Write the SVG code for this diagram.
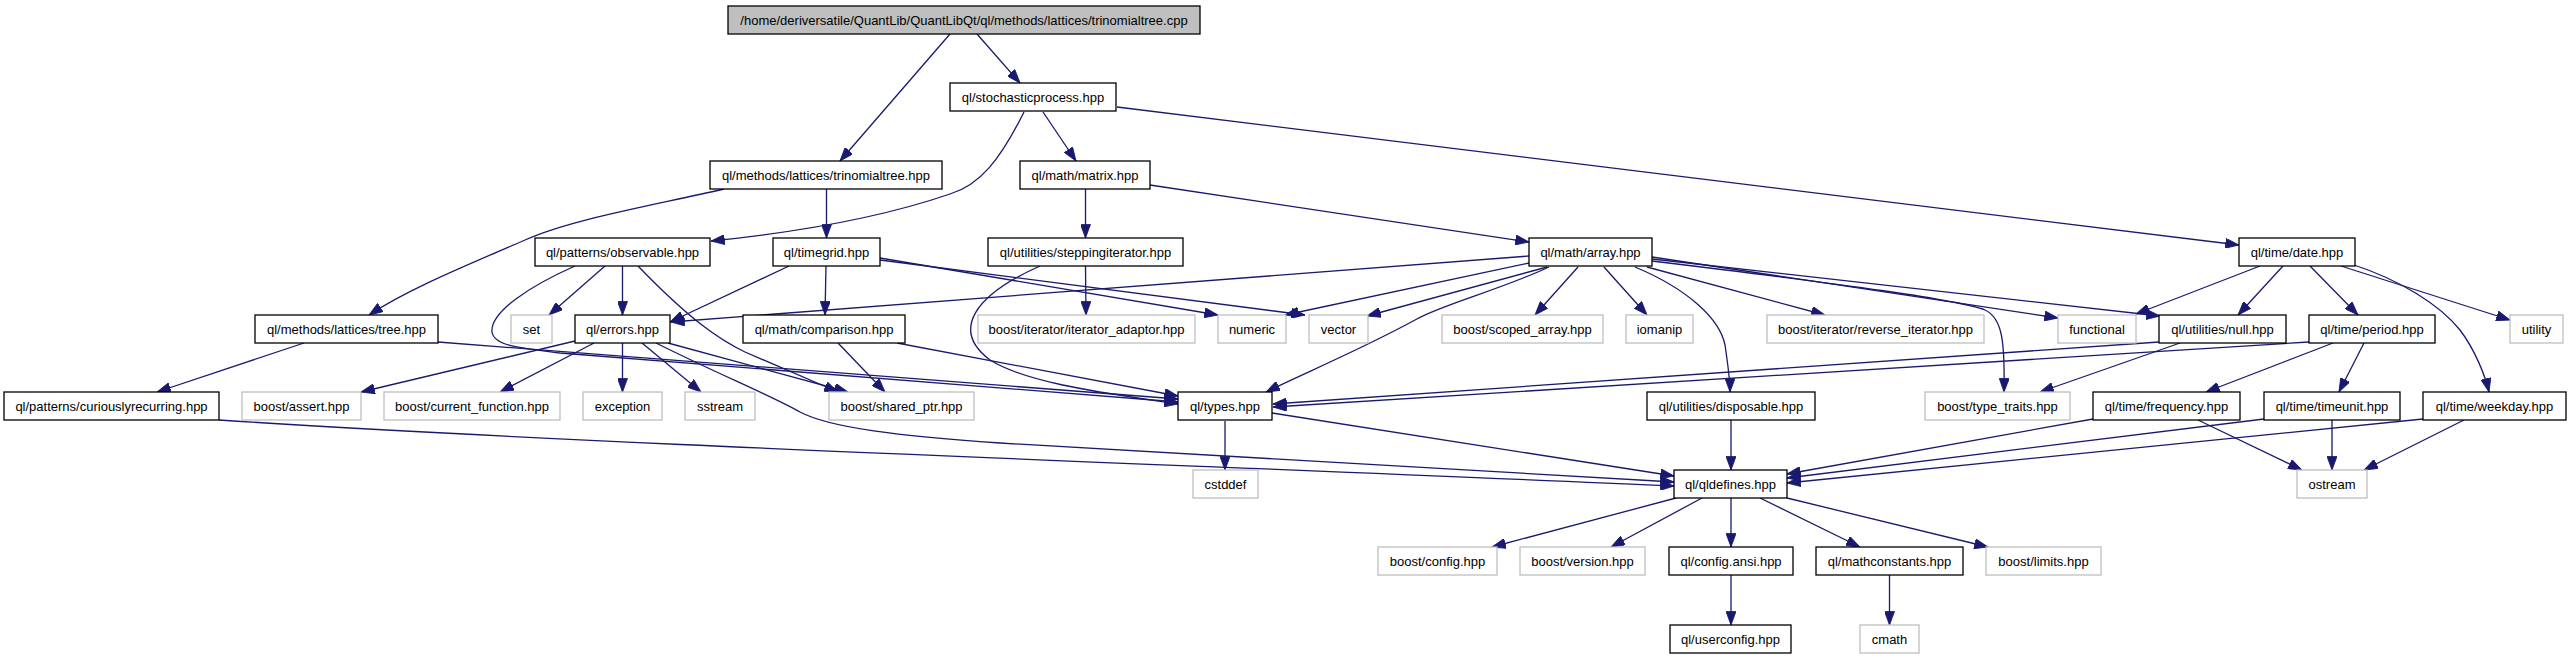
<svg xmlns="http://www.w3.org/2000/svg" width="2571" height="659" viewBox="0 0 2571 659">
<style>
.node rect{fill:#ffffff;stroke:#000000;stroke-width:1.3}
.node.g rect{stroke:#bfbfbf}
.node.root rect{fill:#bfbfbf}
.node text{font-family:"Liberation Sans",Arial,sans-serif;font-size:13px;text-anchor:middle;fill:#000000}
.edges path{fill:none;stroke:#191970;stroke-width:1.3;marker-end:url(#arr)}
</style>
<defs>
<marker id="arr" markerUnits="userSpaceOnUse" markerWidth="14" markerHeight="10" viewBox="0 0 13 9.6" refX="13" refY="4.8" orient="auto">
<path d="M0,0 L13,4.8 L0,9.6 z" fill="#191970" stroke="#191970" stroke-width="0.8"/>
</marker>
</defs>
<rect width="2571" height="659" fill="#ffffff"/>
<g class="edges" id="edges">
<path d="M950,34 L840,161"/>
<path d="M977,34 L1020,83"/>
<path d="M1024,112 C1000,160 980,185 950,194 C880,218 790,233 711,241"/>
<path d="M1043,112 L1076,161"/>
<path d="M1117,107 L2239,245"/>
<path d="M724,189 C640,208 570,220 525,240 C470,264 410,288 369,315"/>
<path d="M826.5,189 L826.5,238"/>
<path d="M1085.5,189 L1085.5,238"/>
<path d="M1150,185 L1529,242"/>
<path d="M605,266 L549,315"/>
<path d="M622.5,266 L622.5,315"/>
<path d="M575,266 C530,286 490,312 492,332 C494,346 520,348 560,353 L1178,402"/>
<path d="M638,266 C690,320 720,340 745,352 L838,392"/>
<path d="M789,266 L670,322"/>
<path d="M826,266 L825,315"/>
<path d="M880,258 L1218,315"/>
<path d="M880,260 L1305,315"/>
<path d="M1085.5,266 L1086,315"/>
<path d="M1040,266 C975,295 950,330 990,360 C1030,385 1120,395 1178,404"/>
<path d="M1529,256 L671,322"/>
<path d="M1529,263 L1285,315"/>
<path d="M1547,267 L1367,316"/>
<path d="M1549,267 C1500,290 1440,305 1415,320 C1360,350 1300,375 1266,392"/>
<path d="M1578,267 L1535,315"/>
<path d="M1604,267 L1647,315"/>
<path d="M1635,267 C1690,290 1720,320 1725,345 C1728,365 1730,380 1730,392"/>
<path d="M1647,267 L1825,315"/>
<path d="M1652,257 L2058,318"/>
<path d="M1652,259 L2160,316"/>
<path d="M1652,261 C1850,285 1960,300 1985,310 C2002,318 2005,340 2004,392"/>
<path d="M2260,266 L2136,314"/>
<path d="M2283,266 L2238,315"/>
<path d="M2310,266 L2358,315"/>
<path d="M2341,266 L2510,320"/>
<path d="M2354,265 C2400,280 2440,305 2460,330 C2475,350 2485,375 2489,392"/>
<path d="M2159,342 L1273,404"/>
<path d="M2180,343 L2040,392"/>
<path d="M2309,342 L1273,407"/>
<path d="M2333,343 L2206,392"/>
<path d="M2364,343 L2339,392"/>
<path d="M304,343 L157,392"/>
<path d="M438,342 L1178,399"/>
<path d="M575,341 L361,392"/>
<path d="M594,343 L500,392"/>
<path d="M622.5,343 L622.5,392"/>
<path d="M642,343 L701,392"/>
<path d="M668,343 L848,392"/>
<path d="M656,343 C720,375 770,395 800,412 C830,428 900,436 1000,443 L1674,482"/>
<path d="M897,343 L1178,396"/>
<path d="M838,343 L885,392"/>
<path d="M219,420 C600,445 1200,465 1674,486"/>
<path d="M1225,421 L1225,470"/>
<path d="M1272,413 L1674,476"/>
<path d="M1731,420 L1731,470"/>
<path d="M2093,419 L1787,474"/>
<path d="M2264,419 L1787,478"/>
<path d="M2423,419 L1787,483"/>
<path d="M2198,420 L2302,470"/>
<path d="M2332,420 L2332,470"/>
<path d="M2464,420 L2364,470"/>
<path d="M1676,498 L1492,547"/>
<path d="M1702,498 L1611,547"/>
<path d="M1731,498 L1731,547"/>
<path d="M1760,498 L1860,547"/>
<path d="M1787,498 L1988,547"/>
<path d="M1731,575 L1731,625"/>
<path d="M1889.5,575 L1889.5,625"/>
</g>
<g class="node root" id="n_root"><rect x="728" y="6" width="472" height="28"/><text x="964" y="24.5">/home/deriversatile/QuantLib/QuantLibQt/ql/methods/lattices/trinomialtree.cpp</text></g>
<g class="node" id="n_stochasticprocess"><rect x="950" y="83" width="166" height="28"/><text x="1033" y="101.5">ql/stochasticprocess.hpp</text></g>
<g class="node" id="n_trinomialtree_hpp"><rect x="710" y="161" width="232" height="28"/><text x="826" y="179.5">ql/methods/lattices/trinomialtree.hpp</text></g>
<g class="node" id="n_matrix"><rect x="1020" y="161" width="130" height="28"/><text x="1085" y="179.5">ql/math/matrix.hpp</text></g>
<g class="node" id="n_observable"><rect x="535" y="238" width="175" height="28"/><text x="622.5" y="256.5">ql/patterns/observable.hpp</text></g>
<g class="node" id="n_timegrid"><rect x="773" y="238" width="107" height="28"/><text x="826.5" y="256.5">ql/timegrid.hpp</text></g>
<g class="node" id="n_steppingiterator"><rect x="988" y="238" width="195" height="28"/><text x="1085.5" y="256.5">ql/utilities/steppingiterator.hpp</text></g>
<g class="node" id="n_array"><rect x="1529" y="238" width="123" height="28"/><text x="1590.5" y="256.5">ql/math/array.hpp</text></g>
<g class="node" id="n_date"><rect x="2239" y="238" width="116" height="28"/><text x="2297" y="256.5">ql/time/date.hpp</text></g>
<g class="node" id="n_tree"><rect x="255" y="315" width="183" height="28"/><text x="346.5" y="333.5">ql/methods/lattices/tree.hpp</text></g>
<g class="node g" id="n_set"><rect x="511" y="315" width="41" height="28"/><text x="531.5" y="333.5">set</text></g>
<g class="node" id="n_errors"><rect x="575" y="315" width="95" height="28"/><text x="622.5" y="333.5">ql/errors.hpp</text></g>
<g class="node" id="n_comparison"><rect x="743" y="315" width="162" height="28"/><text x="824" y="333.5">ql/math/comparison.hpp</text></g>
<g class="node g" id="n_iterator_adaptor"><rect x="978" y="315" width="217" height="28"/><text x="1086.5" y="333.5">boost/iterator/iterator_adaptor.hpp</text></g>
<g class="node g" id="n_numeric"><rect x="1218" y="315" width="68" height="28"/><text x="1252" y="333.5">numeric</text></g>
<g class="node g" id="n_vector"><rect x="1309" y="315" width="59" height="28"/><text x="1338.5" y="333.5">vector</text></g>
<g class="node g" id="n_scoped_array"><rect x="1442" y="315" width="161" height="28"/><text x="1522.5" y="333.5">boost/scoped_array.hpp</text></g>
<g class="node g" id="n_iomanip"><rect x="1626" y="315" width="67" height="28"/><text x="1659.5" y="333.5">iomanip</text></g>
<g class="node g" id="n_reverse_iterator"><rect x="1767" y="315" width="217" height="28"/><text x="1875.5" y="333.5">boost/iterator/reverse_iterator.hpp</text></g>
<g class="node g" id="n_functional"><rect x="2058" y="315" width="78" height="28"/><text x="2097" y="333.5">functional</text></g>
<g class="node" id="n_null"><rect x="2159" y="315" width="127" height="28"/><text x="2222.5" y="333.5">ql/utilities/null.hpp</text></g>
<g class="node" id="n_period"><rect x="2309" y="315" width="126" height="28"/><text x="2372" y="333.5">ql/time/period.hpp</text></g>
<g class="node g" id="n_utility"><rect x="2510" y="315" width="53" height="28"/><text x="2536.5" y="333.5">utility</text></g>
<g class="node" id="n_curiouslyrecurring"><rect x="4" y="392" width="215" height="28"/><text x="111.5" y="410.5">ql/patterns/curiouslyrecurring.hpp</text></g>
<g class="node g" id="n_assert"><rect x="242" y="392" width="119" height="28"/><text x="301.5" y="410.5">boost/assert.hpp</text></g>
<g class="node g" id="n_current_function"><rect x="384" y="392" width="176" height="28"/><text x="472" y="410.5">boost/current_function.hpp</text></g>
<g class="node g" id="n_exception"><rect x="583" y="392" width="79" height="28"/><text x="622.5" y="410.5">exception</text></g>
<g class="node g" id="n_sstream"><rect x="685" y="392" width="70" height="28"/><text x="720" y="410.5">sstream</text></g>
<g class="node g" id="n_shared_ptr"><rect x="829" y="392" width="145" height="28"/><text x="901.5" y="410.5">boost/shared_ptr.hpp</text></g>
<g class="node" id="n_types"><rect x="1178" y="392" width="94" height="28"/><text x="1225" y="410.5">ql/types.hpp</text></g>
<g class="node" id="n_disposable"><rect x="1647" y="392" width="168" height="28"/><text x="1731" y="410.5">ql/utilities/disposable.hpp</text></g>
<g class="node g" id="n_type_traits"><rect x="1925" y="392" width="145" height="28"/><text x="1997.5" y="410.5">boost/type_traits.hpp</text></g>
<g class="node" id="n_frequency"><rect x="2093" y="392" width="147" height="28"/><text x="2166.5" y="410.5">ql/time/frequency.hpp</text></g>
<g class="node" id="n_timeunit"><rect x="2264" y="392" width="136" height="28"/><text x="2332" y="410.5">ql/time/timeunit.hpp</text></g>
<g class="node" id="n_weekday"><rect x="2423" y="392" width="143" height="28"/><text x="2494.5" y="410.5">ql/time/weekday.hpp</text></g>
<g class="node g" id="n_cstddef"><rect x="1193" y="470" width="65" height="28"/><text x="1225.5" y="488.5">cstddef</text></g>
<g class="node" id="n_qldefines"><rect x="1674" y="470" width="113" height="28"/><text x="1730.5" y="488.5">ql/qldefines.hpp</text></g>
<g class="node g" id="n_ostream"><rect x="2297" y="470" width="70" height="28"/><text x="2332" y="488.5">ostream</text></g>
<g class="node g" id="n_boost_config"><rect x="1378" y="547" width="119" height="28"/><text x="1437.5" y="565.5">boost/config.hpp</text></g>
<g class="node g" id="n_boost_version"><rect x="1520" y="547" width="125" height="28"/><text x="1582.5" y="565.5">boost/version.hpp</text></g>
<g class="node" id="n_config_ansi"><rect x="1669" y="547" width="124" height="28"/><text x="1731" y="565.5">ql/config.ansi.hpp</text></g>
<g class="node" id="n_mathconstants"><rect x="1816" y="547" width="147" height="28"/><text x="1889.5" y="565.5">ql/mathconstants.hpp</text></g>
<g class="node g" id="n_boost_limits"><rect x="1986" y="547" width="115" height="28"/><text x="2043.5" y="565.5">boost/limits.hpp</text></g>
<g class="node" id="n_userconfig"><rect x="1670" y="625" width="121" height="28"/><text x="1730.5" y="643.5">ql/userconfig.hpp</text></g>
<g class="node g" id="n_cmath"><rect x="1860" y="625" width="59" height="28"/><text x="1889.5" y="643.5">cmath</text></g>
</svg>
